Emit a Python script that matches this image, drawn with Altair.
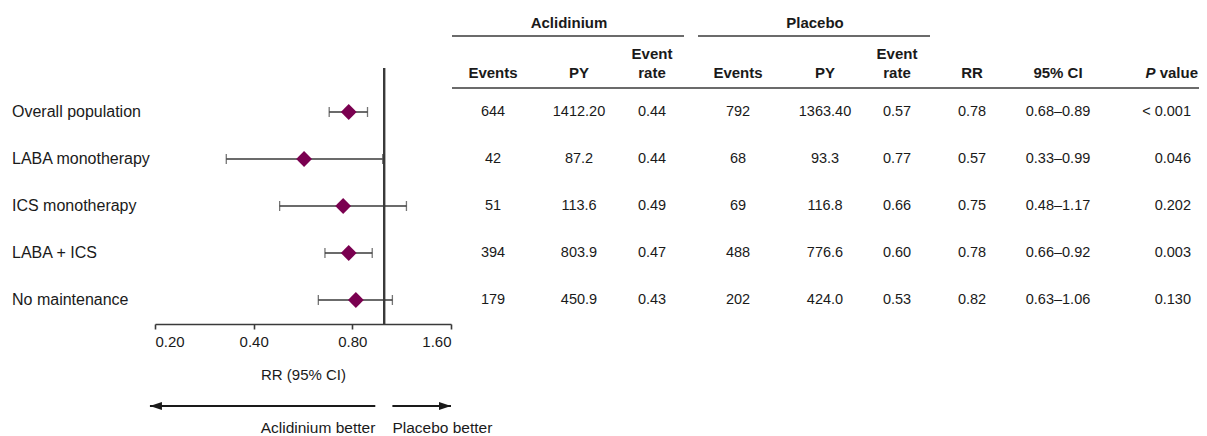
import altair as alt
import pandas as pd

# ---------------- data ----------------
subgroups = ["Overall population", "LABA monotherapy", "ICS monotherapy",
             "LABA + ICS", "No maintenance"]
rr = [0.78, 0.57, 0.75, 0.78, 0.82]
ci_low = [0.68, 0.33, 0.48, 0.66, 0.63]
ci_high = [0.89, 0.99, 1.17, 0.92, 1.06]

acl_events = ["644", "42", "51", "394", "179"]
acl_py = ["1412.20", "87.2", "113.6", "803.9", "450.9"]
acl_rate = ["0.44", "0.44", "0.49", "0.47", "0.43"]
pla_events = ["792", "68", "69", "488", "202"]
pla_py = ["1363.40", "93.3", "116.8", "776.6", "424.0"]
pla_rate = ["0.57", "0.77", "0.66", "0.60", "0.53"]
rr_text = ["0.78", "0.57", "0.75", "0.78", "0.82"]
ci_text = ["0.68\u20130.89", "0.33\u20130.99", "0.48\u20131.17", "0.66\u20130.92", "0.63\u20131.06"]
p_values = ["< 0.001", "0.046", "0.202", "0.003", "0.130"]

col_keys = ["acl_events", "acl_py", "acl_rate", "pla_events", "pla_py",
            "pla_rate", "rr", "ci", "p"]
col_headers = ["Events", "PY", "Event\nrate", "Events", "PY", "Event\nrate",
               "RR", "95% CI", "value"]
groups = ["Aclidinium", "Placebo"]
group_center_col = ["acl_py", "pla_py"]

axis_ticks = [0.2, 0.4, 0.8, 1.6]
axis_title = "RR (95% CI)"
arrow_labels = ["Aclidinium better", "Placebo better"]
arrow_from = [0.94, 1.06]
arrow_to = [0.193, 1.6]

# ---------------- layout / styling ----------------
FONT = "Liberation Sans"
TXT = "#1a1a1a"
LINE = "#3a3a3a"
PURPLE = "#7a0050"
W, H = 1191, 428
# horizontal anchor of each table column, in layout pixels
col_anchor = [485, 571, 644, 730, 817, 889, 964, 1050, 1183]
col_expr = "[{}][indexof([{}], datum.col)]".format(
    ",".join(str(v) for v in col_anchor), ",".join(f"'{k}'" for k in col_keys))

# ---------------- tables ----------------
forest_df = pd.DataFrame({"subgroup": subgroups, "rr": rr, "lo": ci_low, "hi": ci_high})

cols_values = [acl_events, acl_py, acl_rate, pla_events, pla_py, pla_rate,
               rr_text, ci_text, p_values]
cell_rows = []
for key, vals in zip(col_keys, cols_values):
    for sg, v in zip(subgroups, vals):
        cell_rows.append({"col": key, "subgroup": sg, "value": v})
cells_df = pd.DataFrame(cell_rows)
head_df = pd.DataFrame({"col": col_keys, "header": col_headers})
group_df = pd.DataFrame({"group": groups, "col": group_center_col})
arrow_df = pd.DataFrame({"label": arrow_labels, "start": arrow_from, "end": arrow_to})

# ---------------- scales ----------------
row_scale = alt.Scale(type="point", domain=subgroups, range=[104, 292], padding=0)
y_row = alt.Y("subgroup:N", scale=row_scale, axis=None)
x_scale = alt.Scale(type="log", domain=[0.2, 1.6], range=[147, 443], nice=False)
layout_scale = alt.Scale(domain=[0, W], range=[0, W], nice=False, zero=False)
x_col = alt.X("xpos:Q", scale=layout_scale, axis=None)

x_axis = alt.Axis(values=axis_ticks, format=".2f", title=axis_title, orient="bottom",
                  offset=-112, grid=False, domainColor=LINE, domainWidth=1.6,
                  tickColor=LINE, tickWidth=1.6, tickSize=5, labelFont=FONT,
                  labelFontSize=15, labelColor=TXT, labelPadding=5,
                  titleFont=FONT, titleFontSize=15, titleFontWeight="normal",
                  titleColor=TXT, titlePadding=18)

# ---------------- forest ----------------
base_f = alt.Chart(forest_df)
bars = base_f.mark_rule(color=LINE, strokeWidth=1.3).encode(
    x=alt.X("lo:Q", scale=x_scale, axis=x_axis), x2="hi:Q", y=y_row)
cap_lo = base_f.mark_tick(color=LINE, thickness=1.3, size=10).encode(
    x=alt.X("lo:Q", scale=x_scale), y=y_row)
cap_hi = base_f.mark_tick(color=LINE, thickness=1.3, size=10).encode(
    x=alt.X("hi:Q", scale=x_scale), y=y_row)
ref = base_f.mark_rule(color=LINE, strokeWidth=2).encode(
    x=alt.datum(1.0), y=alt.value(60), y2=alt.value(316))
diamonds = base_f.mark_point(shape="diamond", filled=True, size=250,
                             color=PURPLE, opacity=1).encode(
    x=alt.X("rr:Q", scale=x_scale), y=y_row)
labels = base_f.mark_text(align="left", font=FONT, fontSize=16, color=TXT).encode(
    x=alt.value(4), y=y_row, text="subgroup:N")

base_a = alt.Chart(arrow_df)
arrow_lines = base_a.mark_rule(color=TXT, strokeWidth=1.8).encode(
    x=alt.X("start:Q", scale=x_scale), x2="end:Q", y=alt.value(398))
head_left = base_a.transform_filter(alt.datum.end < alt.datum.start).mark_point(
    shape="M 0 0 L 2 -0.65 L 2 0.65 Z", filled=True, size=144, color=TXT, opacity=1
).encode(x=alt.X("end:Q", scale=x_scale), y=alt.value(398))
head_right = base_a.transform_filter(alt.datum.end > alt.datum.start).mark_point(
    shape="M 0 0 L -2 -0.65 L -2 0.65 Z", filled=True, size=144, color=TXT, opacity=1
).encode(x=alt.X("end:Q", scale=x_scale), y=alt.value(398))
lab_left = base_a.transform_filter(alt.datum.end < alt.datum.start).mark_text(
    align="right", font=FONT, fontSize=15.5, color=TXT
).encode(x=alt.X("start:Q", scale=x_scale), y=alt.value(420), text="label:N")
lab_right = base_a.transform_filter(alt.datum.end > alt.datum.start).mark_text(
    align="left", font=FONT, fontSize=15.5, color=TXT
).encode(x=alt.X("start:Q", scale=x_scale), y=alt.value(420), text="label:N")

forest = alt.layer(bars, cap_lo, cap_hi, ref, diamonds, labels,
                   arrow_lines, head_left, head_right, lab_left, lab_right)

# ---------------- table ----------------
base_c = alt.Chart(cells_df).transform_calculate(xpos=col_expr)
cells_mid = base_c.transform_filter(alt.datum.col != "p").mark_text(
    font=FONT, fontSize=14.5, color=TXT).encode(x=x_col, y=y_row, text="value:N")
cells_p = base_c.transform_filter(alt.datum.col == "p").mark_text(
    align="right", font=FONT, fontSize=14.5, color=TXT).encode(x=x_col, y=y_row, text="value:N")

base_h = alt.Chart(head_df).transform_calculate(xpos=col_expr)
single = "indexof(datum.header, '\\n') < 0 && datum.col != 'p'"
double = "indexof(datum.header, '\\n') >= 0"
heads_single = base_h.transform_filter(single).mark_text(
    font=FONT, fontSize=15, fontWeight="bold", color=TXT, baseline="bottom"
).encode(x=x_col, y=alt.value(72.5), text="header:N")
heads_double = base_h.transform_filter(double).mark_text(
    font=FONT, fontSize=15, fontWeight="bold", color=TXT, baseline="bottom",
    lineBreak="\n", lineHeight=19).encode(x=x_col, y=alt.value(53.5), text="header:N")
heads_p = base_h.transform_filter(alt.datum.col == "p").mark_text(
    align="right", dx=7, font=FONT, fontSize=15, fontWeight="bold", color=TXT,
    baseline="bottom").encode(x=x_col, y=alt.value(72.5), text="header:N")
heads_pi = base_h.transform_filter(alt.datum.col == "p").mark_text(
    align="right", dx=-35.5, font=FONT, fontSize=15, fontWeight="bold",
    fontStyle="italic", color=TXT, baseline="bottom").encode(
    x=x_col, y=alt.value(72.5), text=alt.value("P"))

base_g = alt.Chart(group_df).transform_calculate(xpos=col_expr)
group_text = base_g.mark_text(font=FONT, fontSize=15, fontWeight="bold", color=TXT,
                              dx=-10).encode(x=x_col, y=alt.value(15), text="group:N")
group_lines = base_g.mark_rule(color=LINE, strokeWidth=1.6).transform_calculate(
    x0="datum.xpos - 127", x1="datum.xpos + 105"
).encode(x=alt.X("x0:Q", scale=layout_scale, axis=None), x2="x1:Q", y=alt.value(28))
header_line = base_g.transform_filter(alt.datum.group == groups[0]).mark_rule(
    color=LINE, strokeWidth=1.6).encode(x=alt.value(444), x2=alt.value(W), y=alt.value(80))

table = alt.layer(cells_mid, cells_p, heads_single, heads_double, heads_p, heads_pi,
                  group_text, group_lines, header_line)

chart = alt.layer(forest, table).resolve_scale(
    x="independent", y="independent"
).properties(
    width=W, height=H, padding=0,
    autosize=alt.AutoSizeParams(type="none"),
).configure_view(stroke=None)

chart.save("out.html", embed_options={"renderer": "svg", "actions": False})
